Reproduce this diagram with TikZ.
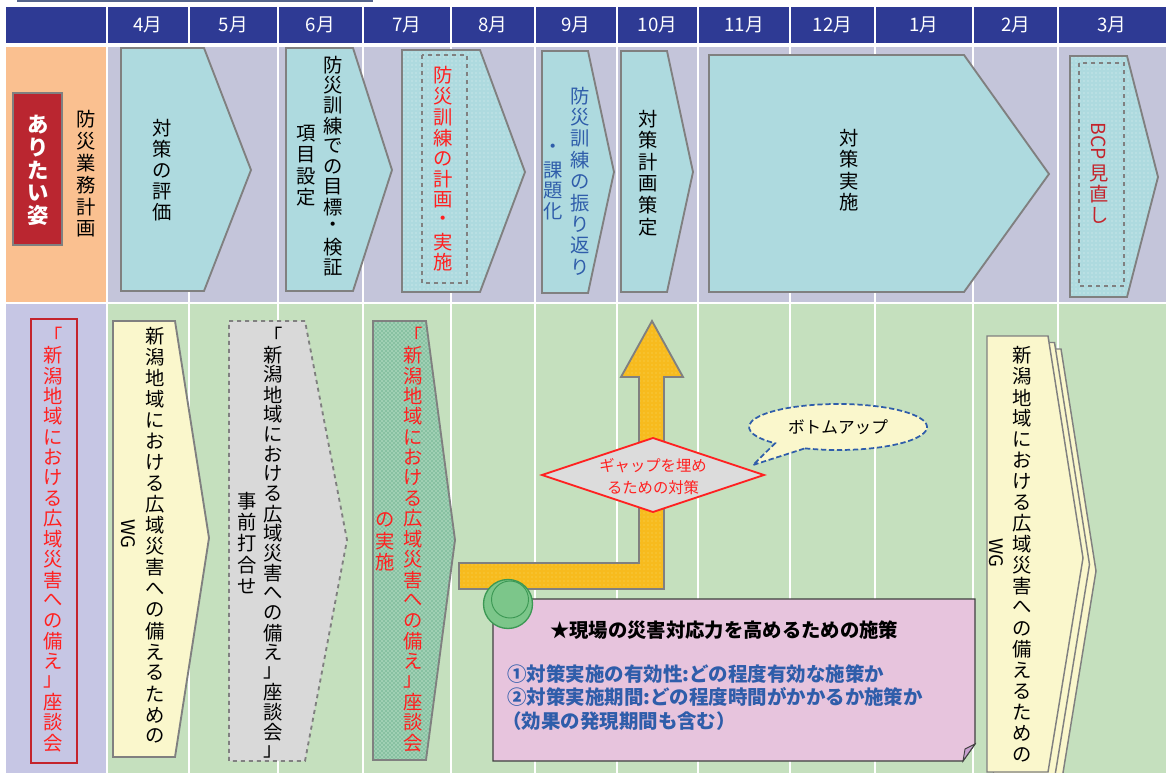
\documentclass[tikz,border=0pt]{standalone}
\usepackage{fontspec}
\setmainfont{Noto Sans CJK JP}
\usetikzlibrary{patterns}
\definecolor{hdr}{RGB}{46,58,148}
\definecolor{lav}{RGB}{196,197,218}
\definecolor{lavb}{RGB}{198,198,228}
\definecolor{peach}{RGB}{250,192,144}
\definecolor{grn}{RGB}{197,224,190}
\definecolor{teal}{RGB}{174,218,223}
\definecolor{shpgray}{RGB}{128,128,128}
\definecolor{redbox}{RGB}{186,38,48}
\definecolor{ylw}{RGB}{250,247,204}
\definecolor{gry}{RGB}{217,217,217}
\definecolor{gtex}{RGB}{160,208,180}
\definecolor{gdot}{RGB}{60,146,104}
\definecolor{orng}{RGB}{247,187,30}
\definecolor{odot}{RGB}{251,214,96}
\definecolor{dmd}{RGB}{220,220,220}
\definecolor{brightred}{RGB}{255,32,32}
\definecolor{darkred}{RGB}{196,36,44}
\definecolor{pink}{RGB}{231,196,221}
\definecolor{pinfill}{RGB}{124,198,138}
\definecolor{pinline}{RGB}{60,152,84}
\definecolor{txtblue}{RGB}{47,93,170}
\definecolor{topline}{RGB}{84,100,140}
\definecolor{fold}{RGB}{200,160,208}
\makeatletter
\newlength\vt@h
\newcommand\vt[2][1.04em]{\setlength\vt@h{#1}$\vcenter{\offinterlineskip\vt@loop#2\vt@end}$}
\def\vt@end{\vt@end}
\def\vt@loop#1{\ifx\vt@end#1\else\vt@cell{#1}\expandafter\vt@loop\fi}
\def\vt@cell#1{\hbox to 1em{\hss\vbox to\vt@h{\vss\hbox{#1}\vss}\hss}}
\makeatother
\begin{document}
\begin{tikzpicture}[x=0.75pt,y=-0.75pt,
  shp/.style={draw=shpgray, line width=1.4pt, line join=miter},
  vtxt/.style={font=\fontsize{14.5}{14.5}\selectfont, inner sep=0pt},
  mon/.style={text=white, font=\fontsize{14}{14}\selectfont, inner sep=0pt},
  grid/.style={white, line width=1.5pt},
  ptxt/.style={text=txtblue, font=\fontsize{14.6}{15}\selectfont\bfseries, inner sep=0pt, anchor=west}]
\useasboundingbox (0,0) rectangle (1166,773);
\fill[white] (0,0) rectangle (1166,773);
% top border line
\draw[topline, line width=1.6pt] (17,1) -- (373,1);
% header and rows
\fill[hdr] (6,7) rectangle (1166,43);
\fill[peach] (6,47) rectangle (107,302);
\fill[lav] (107,47) rectangle (1166,302);
\fill[lavb] (6,304) rectangle (107,773);
\fill[grn] (107,304) rectangle (1166,773);
\foreach \x in {107,189,278,363,451,535,617,698,790,875,973,1058}
  \draw[grid] (\x,7) -- (\x,773);
% months
\foreach \x/\m in {148/4,233.5/5,320.5/6,407/7,493/8,576/9,657.5/10,744/11,832.5/12,924/1,1015.5/2,1112/3}
  \node[mon] (mon\m) at (\x,25) {\m 月};
% left labels
\draw[draw=shpgray, line width=1.6pt, fill=redbox] (13,93) rectangle (62,245);
\node[vtxt, text=white, font=\fontsize{16}{16}\selectfont\bfseries] (arita) at (38,170) {\vt[17.1pt]{ありたい姿}};
\node[vtxt] (bousai) at (86,174) {\vt[16.5pt]{防災業務計画}};
\draw[draw=darkred, line width=1.8pt] (31,319) rectangle (77,763);
\node[vtxt, text=brightred] (zadan) at (53,539) {\vt[15.3pt]{「新潟地域における広域災害への備え」座談会}};
% top row shapes
\draw[shp, fill=teal] (121,48) -- (204,48) -- (251,170) -- (204,291) -- (121,291) -- cycle;
\node[vtxt] (t1) at (162,170.5) {\vt[15.75pt]{対策の評価}};
\draw[shp, fill=teal] (286,48) -- (353,48) -- (392,170) -- (353,291) -- (286,291) -- cycle;
\node[vtxt] (t2a) at (333,166.5) {\vt[15.2pt]{防災訓練での目標・検証}};
\node[vtxt] (t2b) at (306,165.5) {\vt[15.9pt]{項目設定}};
\draw[shp, preaction={fill=teal}, pattern=dots, pattern color=white!60!teal] (402,50) -- (480,50) -- (525,172) -- (480,292) -- (402,292) -- cycle;
\draw[shpgray, line width=0.8pt, dashed] (422,55) rectangle (467,283);
\node[vtxt, text=brightred] (t3) at (443,169) {\vt[15.6pt]{防災訓練の計画・実施}};
\draw[shp, fill=teal] (542,51) -- (588,51) -- (614,172) -- (588,293) -- (542,293) -- cycle;
\node[vtxt, text=txtblue] (t4a) at (580,181.5) {\vt[16pt]{防災訓練の振り返り}};
\node[vtxt, text=txtblue] (t4b) at (553,180.5) {\vt[15.6pt]{・課題化}};
\draw[shp, fill=teal] (621,51) -- (667,51) -- (693,172) -- (667,292) -- (621,292) -- cycle;
\node[vtxt] (t5) at (648,173) {\vt[16.2pt]{対策計画策定}};
\draw[shp, fill=teal] (709,55) -- (964,55) -- (1049,174) -- (964,292) -- (709,292) -- cycle;
\node[vtxt] (t6) at (849,170) {\vt[16.1pt]{対策実施}};
\draw[shp, preaction={fill=teal}, pattern=dots, pattern color=white!60!teal] (1070,56) -- (1127,56) -- (1158,177) -- (1127,297) -- (1070,297) -- cycle;
\draw[shpgray, line width=0.8pt, dashed] (1079,63) rectangle (1124,286);
\node[vtxt, text=darkred, rotate=-90] (bcp) at (1099,141.5) {BCP};
\node[vtxt, text=darkred] (t7) at (1099,194.5) {\vt[15.75pt]{見直し}};
% bottom row shapes
\draw[shp, fill=ylw] (113,321) -- (175,321) -- (209,538) -- (175,757) -- (113,757) -- cycle;
\node[vtxt] (b1a) at (155,536) {\vt[15.8pt]{新潟地域における広域災害への備えるための}};
\node[vtxt, rotate=-90, font=\fontsize{14}{14}\selectfont] (b1b) at (128,534) {WG};
\draw[shp, fill=gry, dashed] (229,321) -- (305,321) -- (347,540) -- (305,761) -- (229,761) -- cycle;
\node[vtxt] (b2a) at (273,543.5) {\vt[14.9pt]{「新潟地域における広域災害への備え」座談会」}};
\node[vtxt] (b2b) at (247,543.5) {\vt[16pt]{事前打合せ}};
\draw[shp, preaction={fill=gtex}, pattern=crosshatch dots, pattern color=gdot] (373,321) -- (426,321) -- (455,540) -- (426,760) -- (373,760) -- cycle;
\node[vtxt, text=brightred] (b3a) at (413,539) {\vt[15.3pt]{「新潟地域における広域災害への備え」座談会}};
\node[vtxt, text=brightred] (b3b) at (385,541) {\vt[15.5pt]{の実施}};
% L arrow
\draw[shp, preaction={fill=orng}, pattern=dots, pattern color=odot] (459,563) -- (639,563) -- (639,377) -- (621,377) -- (652,321) -- (683,377) -- (664,377) -- (664,589) -- (459,589) -- cycle;
% diamond
\draw[draw=brightred, line width=1.4pt, fill=dmd] (542,475) -- (653,438) -- (764,475) -- (653,512) -- cycle;
\node[text=brightred, font=\fontsize{11.5}{16.5}\selectfont, align=center, inner sep=0pt] (gap) at (653,477) {ギャップを埋め\\るための対策};
% callout
\coordinate (cbc) at (838,427);
\coordinate (ctip) at (753,465);
\draw[draw=txtblue, line width=1.3pt, dash pattern=on 4pt off 2pt, fill=ylw] (cbc) ++(111.8:89 and 23) arc[start angle=111.8, end angle=-225, x radius=89, y radius=23] -- (ctip) -- cycle;
\node[font=\fontsize{12.5}{13}\selectfont, inner sep=0pt] (bottomup) at (cbc) {ボトムアップ};
% pink note
\draw[draw=black!75, line width=0.9pt, fill=pink] (493,599) -- (975,599) -- (975,744) -- (963,761) -- (493,761) -- cycle;
\draw[draw=black!75, line width=0.7pt, fill=fold] (975,744) -- (963,761) -- (965,749) -- cycle;
\draw[draw=pinline, line width=1pt, fill=pinfill] (508,604) circle (24.5);
\draw[draw=pinline, line width=0.7pt] (510,599.5) circle (18.5);
\node[font=\fontsize{14.5}{15}\selectfont\bfseries, inner sep=0pt] (ptitle) at (724,630) {★現場の災害対応力を高めるための施策};
\node[ptxt] (p1) at (507,674) {①対策実施の有効性:どの程度有効な施策か};
\node[ptxt] (p2) at (507,697) {②対策実施期間:どの程度時間がかかるか施策か};
\node[ptxt] (p3) at (502,721) {（効果の発現期間も含む）};
% right WG stack
\draw[shp, line width=1.1pt, fill=ylw] (1000,349) -- (1061,349) -- (1096,571) -- (1061,785) -- (1000,785) -- cycle;
\draw[shp, line width=1.1pt, fill=ylw] (993.5,342.5) -- (1054.5,342.5) -- (1089.5,564.5) -- (1054.5,778.5) -- (993.5,778.5) -- cycle;
\draw[shp, line width=1.1pt, fill=ylw] (987,336) -- (1048,336) -- (1083,558) -- (1048,772) -- (987,772) -- cycle;
\node[vtxt] (r1a) at (1022,555) {\vt[15.75pt]{新潟地域における広域災害への備えるための}};
\node[vtxt, rotate=-90, font=\fontsize{14}{14}\selectfont] (r1b) at (996,553) {WG};
\end{tikzpicture}
\end{document}
